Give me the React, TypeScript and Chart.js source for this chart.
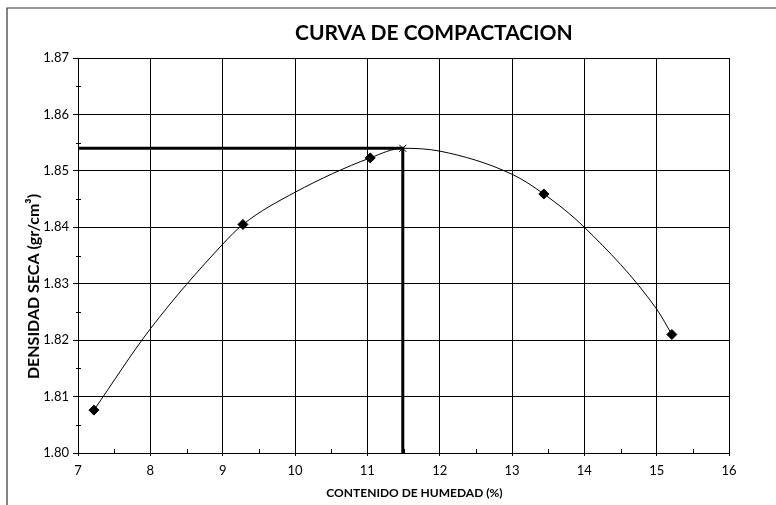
import React, { useEffect, useRef } from "react";
import { Chart, registerables } from "chart.js";

Chart.register(...registerables);

const humedad = [7.22, 9.28, 11.04, 13.44, 15.21];
const densidad = [1.8076, 1.8405, 1.8523, 1.8459, 1.821];
// Maximum density / optimum moisture
const humedadOptima = 11.49;
const densidadMaxima = 1.854;
// The smooth compaction curve at several moistures
const curvaHumedad = [7.22, 8, 9, 9.28, 10, 11.04, 11.49, 12, 13, 13.44, 14, 15, 15.21];
const curvaDensidad = [1.8076, 1.822, 1.837, 1.8405, 1.8462, 1.8523, 1.854, 1.8535, 1.8494, 1.8459, 1.84, 1.8255, 1.821];

const xMin = 7;
const xMax = 16;
const xStep = 1;
const yMin = 1.8;
const yMax = 1.87;
const yStep = 0.01;

const chartTitle = "CURVA DE COMPACTACION";
const xTitle = "CONTENIDO DE HUMEDAD (%)";
const yTitle = "DENSIDAD SECA (gr/cm³)";

const FONT = "Lato, 'Noto Sans', sans-serif";

const decorPlugin = {
  id: "decor",
  beforeDraw(chart: any) {
    const ctx = chart.ctx;
    ctx.save();
    ctx.fillStyle = "#ffffff";
    ctx.fillRect(0, 0, chart.width, chart.height);
    ctx.strokeStyle = "#333333";
    ctx.lineWidth = 1.2;
    ctx.beginPath();
    ctx.moveTo(7, chart.height);
    ctx.lineTo(7, 8);
    ctx.lineTo(chart.width, 8);
    ctx.stroke();
    ctx.restore();
  },
  afterDraw(chart: any) {
    const ctx = chart.ctx;
    const xs = chart.scales.x;
    const ys = chart.scales.y;
    const area = chart.chartArea;
    ctx.save();
    // minor ticks
    ctx.strokeStyle = "#000";
    ctx.lineWidth = 1;
    ctx.beginPath();
    for (let v = xMin + xStep / 2; v < xMax; v += xStep) {
      const px = Math.round(xs.getPixelForValue(v)) + 0.5;
      ctx.moveTo(px, area.bottom);
      ctx.lineTo(px, area.bottom - 4);
    }
    for (let v = yMin + yStep / 2; v < yMax; v += yStep) {
      const py = Math.round(ys.getPixelForValue(v)) + 0.5;
      ctx.moveTo(area.left - 2, py);
      ctx.lineTo(area.left + 3, py);
    }
    ctx.stroke();

    ctx.fillStyle = "#000";
    ctx.textAlign = "center";
    ctx.textBaseline = "middle";
    ctx.font = `bold 21px ${FONT}`;
    ctx.fillText(chartTitle, chart.width * 0.559, 33);

    ctx.font = `bold 12px ${FONT}`;
    ctx.fillText(xTitle, (area.left + area.right) / 2 + 11, 493);

    ctx.font = `bold 16px ${FONT}`;
    ctx.translate(34, (area.top + area.bottom) / 2 + 31);
    ctx.rotate(-Math.PI / 2);
    ctx.fillText(yTitle, 0, 0);
    ctx.restore();
  },
};

export default function App() {
  const ref = useRef<HTMLCanvasElement>(null);

  useEffect(() => {
    document.body.style.margin = "0";
    const canvas = ref.current;
    if (!canvas) return;

    const chart = new Chart(canvas, {
      type: "scatter",
      data: {
        datasets: [
          {
            type: "line",
            data: [
              { x: xMin, y: densidadMaxima },
              { x: humedadOptima, y: densidadMaxima },
              { x: humedadOptima, y: yMin },
            ],
            borderColor: "#000",
            borderWidth: 3,
            pointRadius: 0,
            tension: 0,
            fill: false,
          },
          {
            type: "line",
            data: curvaHumedad.map((x, i) => ({ x, y: curvaDensidad[i] })),
            borderColor: "#000",
            borderWidth: 1,
            pointRadius: 0,
            cubicInterpolationMode: "monotone",
            fill: false,
          },
          {
            type: "scatter",
            data: humedad.map((x, i) => ({ x, y: densidad[i] })),
            pointStyle: "rectRot",
            pointRadius: 5,
            backgroundColor: "#000",
            borderColor: "#000",
          },
          {
            type: "scatter",
            data: [{ x: humedadOptima, y: densidadMaxima }],
            pointStyle: "crossRot",
            pointRadius: 5,
            borderWidth: 1,
            borderColor: "#000",
          },
        ],
      },
      options: {
        animation: false,
        responsive: false,
        devicePixelRatio: 1,
        layout: { padding: { left: 0, top: 58, right: 47, bottom: 0 } },
        plugins: {
          legend: { display: false },
          title: { display: false },
          tooltip: { enabled: false },
        },
        scales: {
          x: {
            type: "linear",
            min: xMin,
            max: xMax,
            ticks: {
              stepSize: xStep,
              color: "#000",
              font: { family: FONT, size: 13 },
              padding: 7,
              maxRotation: 0,
            },
            grid: { color: "#000", lineWidth: 1, tickLength: 3 },
            border: { color: "#000", width: 1 },
            afterFit: (s: any) => {
              s.height = 52;
            },
          },
          y: {
            type: "linear",
            min: yMin,
            max: yMax,
            ticks: {
              stepSize: yStep,
              color: "#000",
              font: { family: FONT, size: 13 },
              padding: 4,
              callback: (v: any) => Number(v).toFixed(2),
            },
            grid: { color: "#000", lineWidth: 1, tickLength: 5 },
            border: { color: "#000", width: 1 },
            afterFit: (s: any) => {
              s.width = 78;
            },
          },
        },
      },
      plugins: [decorPlugin],
    } as any);

    return () => chart.destroy();
  }, []);

  return (
    <div style={{ width: 776, height: 505, position: "relative" }}>
      <canvas ref={ref} width={776} height={505} style={{ display: "block" }} />
    </div>
  );
}
